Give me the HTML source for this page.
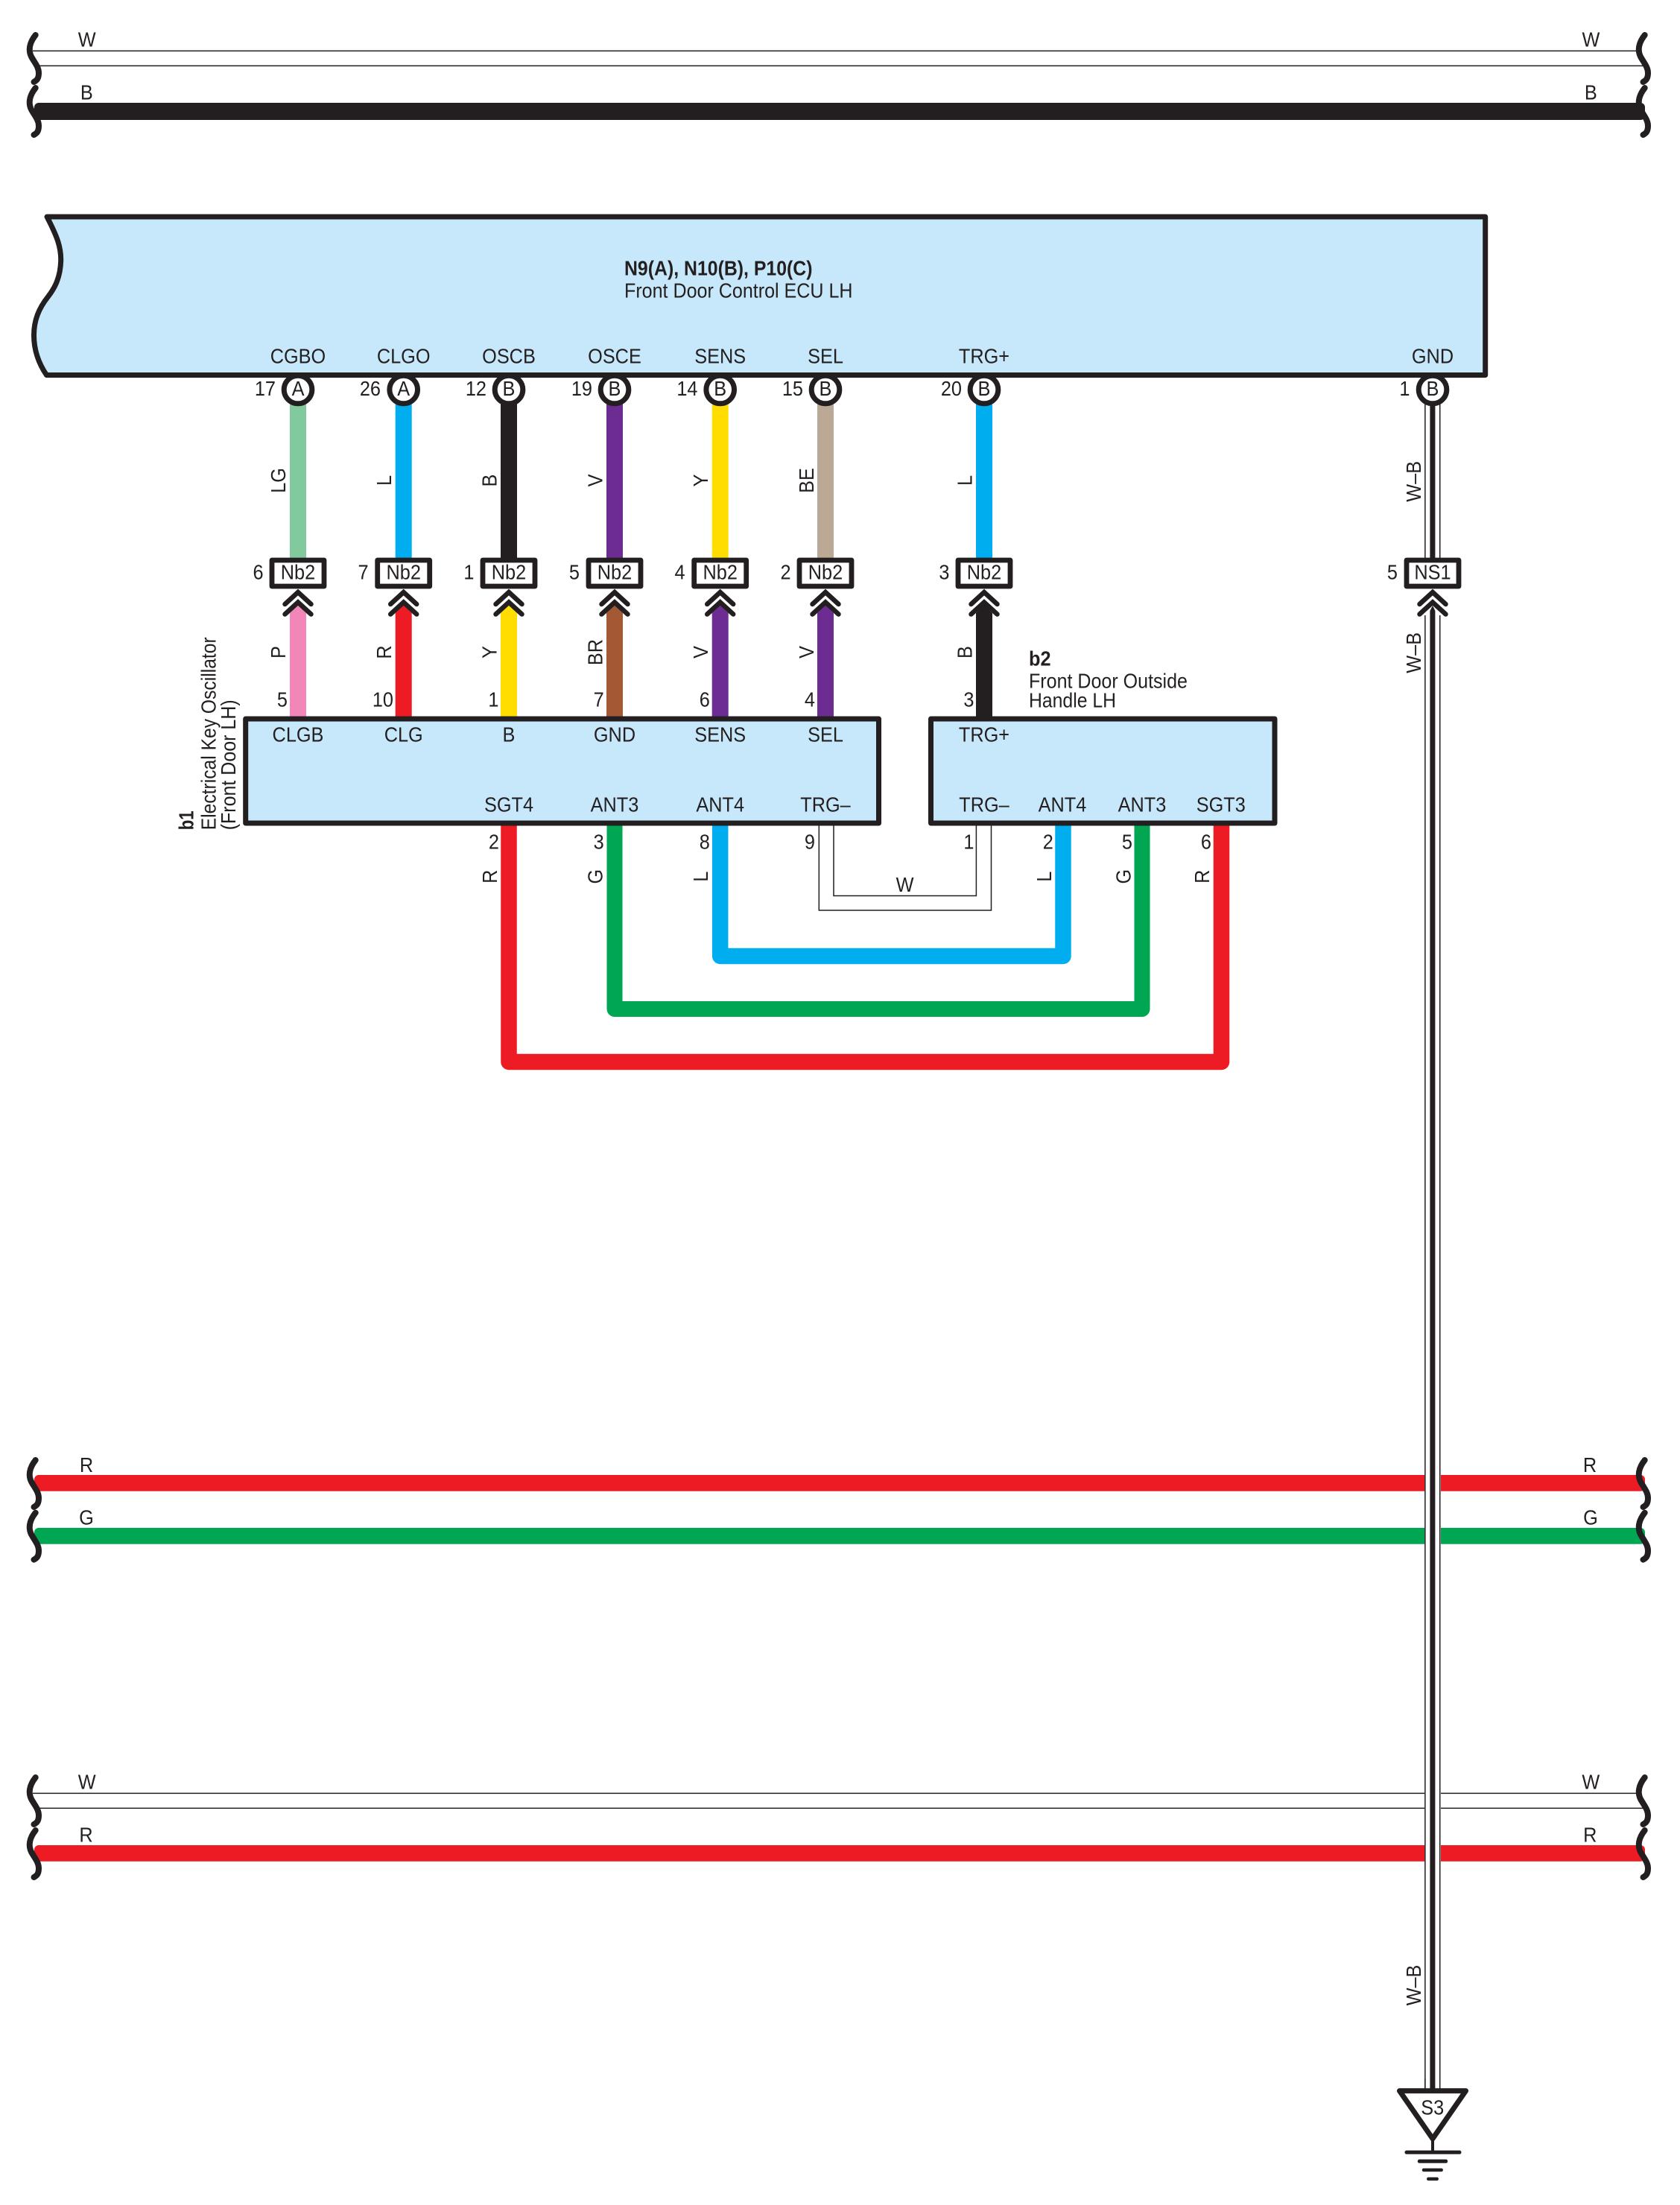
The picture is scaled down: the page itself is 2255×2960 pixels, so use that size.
<!DOCTYPE html>
<html>
<head>
<meta charset="utf-8">
<style>
html,body{margin:0;padding:0;background:#fff}
svg{display:block}
text{font-family:"Liberation Sans",sans-serif;font-size:27.5px;fill:#231F20;text-anchor:middle;transform-box:fill-box;transform:scaleX(.92);transform-origin:center}
text.s{text-anchor:start;transform-origin:left center}
text.e{text-anchor:end;transform-origin:right center}
text.n{text-anchor:start;transform:none}
text.b{font-weight:bold}
</style>
</head>
<body>
<svg xmlns="http://www.w3.org/2000/svg" width="2255" height="2960" viewBox="0 0 2255 2960">
<defs>
<path id="q" d="M47.7,47 C39,58 38,68 42,76 C47,85 52,90 52,98 C52,106 49,108 45.5,110" fill="none" stroke="#231F20" stroke-width="8" stroke-linecap="round"/>
<path id="a" d="M-11,963 V823 L0,812 L11,823 V963 Z"/>
<g id="ch" fill="none" stroke="#231F20" stroke-width="6.5" stroke-linecap="round" stroke-linejoin="miter">
<path d="M-17.5,811 L0,795 L17.5,811"/>
<path d="M-17.5,824.5 L0,808.5 L17.5,824.5"/>
</g>
<rect id="bx" x="-35" y="752" width="70" height="35" fill="#fff" stroke="#231F20" stroke-width="6.8" stroke-linejoin="round"/>
<circle id="c" cx="0" cy="523" r="18.8" fill="#fff" stroke="#231F20" stroke-width="7"/>
</defs>

<!-- top bus -->
<rect x="44" y="67.6" width="2156" height="1.5" fill="#231F20"/>
<rect x="53" y="87.6" width="2157" height="1.5" fill="#231F20"/>
<rect x="46" y="138" width="2162" height="23" rx="6" fill="#231F20"/>
<use href="#q"/><use href="#q" x="2160"/>
<use href="#q" y="71"/><use href="#q" x="2160" y="71"/>
<text x="116.7" y="62.7">W</text><text x="2135.5" y="62.7">W</text>
<text x="116.3" y="133.7">B</text><text x="2135.3" y="133.7">B</text>

<!-- R/G bus -->
<rect x="46" y="1980" width="2162" height="21.7" rx="6" fill="#ED1C24"/>
<rect x="46" y="2051" width="2162" height="21.7" rx="6" fill="#00A651"/>
<use href="#q" y="1913"/><use href="#q" x="2160" y="1913"/>
<use href="#q" y="1983.7"/><use href="#q" x="2160" y="1983.7"/>
<text x="116" y="1976">R</text><text x="2134" y="1976">R</text>
<text x="116" y="2046.7">G</text><text x="2135" y="2046.7">G</text>

<!-- W/R bus -->
<rect x="44" y="2406.6" width="2156" height="1.5" fill="#231F20"/>
<rect x="53" y="2426.6" width="2157" height="1.5" fill="#231F20"/>
<rect x="46" y="2477" width="2162" height="21.7" rx="6" fill="#ED1C24"/>
<use href="#q" y="2339"/><use href="#q" x="2160" y="2339"/>
<use href="#q" y="2410"/><use href="#q" x="2160" y="2410"/>
<text x="116.7" y="2401.7">W</text><text x="2135.3" y="2401.7">W</text>
<text x="115.5" y="2472.7">R</text><text x="2134.3" y="2472.7">R</text>

<!-- gap of vertical wire -->
<rect x="1912" y="1900" width="22" height="700" fill="#fff"/>

<!-- upper wires -->
<rect x="389" y="540" width="22" height="210" fill="#82C99D"/>
<rect x="530.7" y="540" width="22" height="210" fill="#00AEEF"/>
<rect x="672" y="540" width="22" height="210" fill="#231F20"/>
<rect x="814" y="540" width="22" height="210" fill="#6C2C91"/>
<rect x="955.7" y="540" width="22" height="210" fill="#FFDD00"/>
<rect x="1097" y="540" width="22" height="210" fill="#BBA995"/>
<rect x="1310" y="540" width="22" height="210" fill="#00AEEF"/>
<rect x="1912.1" y="540" width="1.5" height="212" fill="#231F20"/>
<rect x="1932" y="540" width="1.5" height="212" fill="#231F20"/>
<rect x="1919.4" y="540" width="7" height="212" fill="#231F20"/>

<!-- lower (middle) wires -->
<use href="#a" x="400" fill="#F286B8"/>
<use href="#a" x="541.7" fill="#ED1C24"/>
<use href="#a" x="683" fill="#FFDD00"/>
<use href="#a" x="825" fill="#A25934"/>
<use href="#a" x="966.7" fill="#6C2C91"/>
<use href="#a" x="1108" fill="#6C2C91"/>
<use href="#a" x="1321" fill="#231F20"/>

<!-- chevrons -->
<use href="#ch" x="400"/><use href="#ch" x="541.7"/><use href="#ch" x="683"/><use href="#ch" x="825"/>
<use href="#ch" x="966.7"/><use href="#ch" x="1108"/><use href="#ch" x="1321"/><use href="#ch" x="1923"/>

<!-- vertical W-B wire -->
<rect x="1912.1" y="826" width="1.5" height="1980" fill="#231F20"/>
<rect x="1932" y="826" width="1.5" height="1980" fill="#231F20"/>
<path d="M1919.4,2806 V820 L1923,813 L1926.4,820 V2806 Z" fill="#231F20"/>

<!-- connector boxes -->
<use href="#bx" x="400"/><use href="#bx" x="541.7"/><use href="#bx" x="683"/><use href="#bx" x="825"/>
<use href="#bx" x="966.7"/><use href="#bx" x="1108"/><use href="#bx" x="1321"/><use href="#bx" x="1923"/>
<text x="400" y="777.5">Nb2</text><text x="541.7" y="777.5">Nb2</text><text x="683" y="777.5">Nb2</text><text x="825" y="777.5">Nb2</text>
<text x="966.7" y="777.5">Nb2</text><text x="1108" y="777.5">Nb2</text><text x="1321" y="777.5">Nb2</text><text x="1923" y="777.5">NS1</text>
<text class="e" x="353.6" y="777.5">6</text><text class="e" x="494.6" y="777.5">7</text><text class="e" x="636.5" y="777.5">1</text><text class="e" x="778" y="777.5">5</text>
<text class="e" x="919.6" y="777.5">4</text><text class="e" x="1061.6" y="777.5">2</text><text class="e" x="1274.5" y="777.5">3</text><text class="e" x="1876" y="777.5">5</text>

<!-- circles -->
<use href="#c" x="400"/><use href="#c" x="541.7"/><use href="#c" x="683"/><use href="#c" x="825"/>
<use href="#c" x="966.7"/><use href="#c" x="1108"/><use href="#c" x="1321"/><use href="#c" x="1923"/>
<text x="400" y="531">A</text><text x="541.7" y="531">A</text><text x="683" y="531">B</text><text x="825" y="531">B</text>
<text x="966.7" y="531">B</text><text x="1108" y="531">B</text><text x="1321" y="531">B</text><text x="1923" y="531">B</text>
<text class="e" x="370" y="531">17</text><text class="e" x="511" y="531">26</text><text class="e" x="653" y="531">12</text><text class="e" x="795" y="531">19</text>
<text class="e" x="936.5" y="531">14</text><text class="e" x="1078" y="531">15</text><text class="e" x="1291" y="531">20</text><text class="e" x="1892.5" y="531">1</text>

<!-- ECU -->
<path d="M63,291 C77,318 82,332 81.7,350 C81,372 74,386 64.7,398 C52,414 45.5,430 45.5,450 C45.5,470 52,488 62.5,503.5 H1993.7 V291 Z" fill="#C7E8FA" stroke="#231F20" stroke-width="7" stroke-linejoin="round"/>
<text class="n b" x="838" y="369.3" textLength="252.5" lengthAdjust="spacingAndGlyphs">N9(A), N10(B), P10(C)</text>
<text class="n" x="838" y="399.3" textLength="306.5" lengthAdjust="spacingAndGlyphs">Front Door Control ECU LH</text>
<text x="400" y="487.7">CGBO</text><text x="541.7" y="487.7">CLGO</text><text x="683" y="487.7">OSCB</text><text x="825" y="487.7">OSCE</text>
<text x="966.7" y="487.7">SENS</text><text x="1108" y="487.7">SEL</text><text x="1321" y="487.7">TRG+</text><text x="1923" y="487.7">GND</text>

<!-- upper wire labels -->
<g transform="translate(383,645) rotate(-90)"><text>LG</text></g>
<g transform="translate(525.2,645) rotate(-90)"><text>L</text></g>
<g transform="translate(666.5,645) rotate(-90)"><text>B</text></g>
<g transform="translate(808.5,645) rotate(-90)"><text>V</text></g>
<g transform="translate(950,645) rotate(-90)"><text>Y</text></g>
<g transform="translate(1092,645) rotate(-90)"><text>BE</text></g>
<g transform="translate(1304.5,645) rotate(-90)"><text>L</text></g>
<g transform="translate(1907,646.3) rotate(-90)"><text>W–B</text></g>
<g transform="translate(1907,876.3) rotate(-90)"><text>W–B</text></g>
<g transform="translate(1907,2665) rotate(-90)"><text>W–B</text></g>

<!-- middle wire labels -->
<g transform="translate(383,875.5) rotate(-90)"><text>P</text></g>
<g transform="translate(525.2,875.5) rotate(-90)"><text>R</text></g>
<g transform="translate(666.5,875.5) rotate(-90)"><text>Y</text></g>
<g transform="translate(808.5,875.5) rotate(-90)"><text>BR</text></g>
<g transform="translate(950.2,875.5) rotate(-90)"><text>V</text></g>
<g transform="translate(1092,875.5) rotate(-90)"><text>V</text></g>
<g transform="translate(1304.5,875.5) rotate(-90)"><text>B</text></g>

<!-- TRG- double wire -->
<path d="M1099.3,1105 V1222 H1330.5 V1105" fill="none" stroke="#231F20" stroke-width="1.5"/>
<path d="M1119,1105 V1202.5 H1310.4 V1105" fill="none" stroke="#231F20" stroke-width="1.5"/>

<!-- loop wires -->
<path d="M683,1105 V1425.5 H1639.5 V1105" fill="none" stroke="#ED1C24" stroke-width="21.5" stroke-linejoin="round"/>
<path d="M825,1105 V1354.5 H1533 V1105" fill="none" stroke="#00A651" stroke-width="21" stroke-linejoin="round"/>
<path d="M966.7,1105 V1283.5 H1427 V1105" fill="none" stroke="#00AEEF" stroke-width="21.5" stroke-linejoin="round"/>

<!-- b1 / b2 -->
<rect x="329.7" y="965" width="849.8" height="140" fill="#C7E8FA" stroke="#231F20" stroke-width="7" stroke-linejoin="round"/>
<rect x="1249.5" y="965" width="461.5" height="140" fill="#C7E8FA" stroke="#231F20" stroke-width="7" stroke-linejoin="round"/>
<text x="400" y="995.5">CLGB</text><text x="541.7" y="995.5">CLG</text><text x="683" y="995.5">B</text><text x="825" y="995.5">GND</text>
<text x="966.7" y="995.5">SENS</text><text x="1108" y="995.5">SEL</text><text x="1321" y="995.5">TRG+</text>
<text x="683" y="1089.7">SGT4</text><text x="825" y="1089.7">ANT3</text><text x="966.7" y="1089.7">ANT4</text><text x="1108" y="1089.7">TRG–</text>
<text x="1321" y="1089.7">TRG–</text><text x="1426" y="1089.7">ANT4</text><text x="1533" y="1089.7">ANT3</text><text x="1638.8" y="1089.7">SGT3</text>

<text class="e" x="386" y="948.5">5</text><text class="e" x="528" y="948.5">10</text><text class="e" x="669.5" y="948.5">1</text><text class="e" x="810.7" y="948.5">7</text>
<text class="e" x="952.8" y="948.5">6</text><text class="e" x="1094" y="948.5">4</text><text class="e" x="1307.5" y="948.5">3</text>
<text class="e" x="670" y="1139.5">2</text><text class="e" x="810.7" y="1139.5">3</text><text class="e" x="952.8" y="1139.5">8</text><text class="e" x="1094" y="1139.5">9</text>
<text class="e" x="1307.5" y="1139.5">1</text><text class="e" x="1413.8" y="1139.5">2</text><text class="e" x="1520" y="1139.5">5</text><text class="e" x="1626" y="1139.5">6</text>

<g transform="translate(667.2,1176.7) rotate(-90)"><text>R</text></g>
<g transform="translate(808.5,1176.7) rotate(-90)"><text>G</text></g>
<g transform="translate(950.2,1176.7) rotate(-90)"><text>L</text></g>
<g transform="translate(1411.1,1176.7) rotate(-90)"><text>L</text></g>
<g transform="translate(1517.3,1176.7) rotate(-90)"><text>G</text></g>
<g transform="translate(1622.8,1176.7) rotate(-90)"><text>R</text></g>
<text x="1214.6" y="1197">W</text>

<text class="s b" x="1381" y="893.5">b2</text>
<text class="n" x="1381" y="923.7" textLength="213" lengthAdjust="spacingAndGlyphs">Front Door Outside</text>
<text class="n" x="1381" y="949.5" textLength="117" lengthAdjust="spacingAndGlyphs">Handle LH</text>

<g transform="translate(259.5,1114.3) rotate(-90)"><text class="n b" x="0" y="0" textLength="26" lengthAdjust="spacingAndGlyphs">b1</text></g>
<g transform="translate(289.3,1114.3) rotate(-90)"><text class="n" x="0" y="0" textLength="259" lengthAdjust="spacingAndGlyphs">Electrical Key Oscillator</text></g>
<g transform="translate(316,1114.3) rotate(-90)"><text class="n" x="0" y="0" textLength="175" lengthAdjust="spacingAndGlyphs">(Front Door LH)</text></g>

<!-- ground -->
<path d="M1878.5,2806.7 H1967.5 L1923,2871 Z" fill="#fff" stroke="#231F20" stroke-width="7" stroke-linejoin="round"/>
<rect x="1912.1" y="2790" width="1.5" height="14" fill="#231F20"/>
<rect x="1932" y="2790" width="1.5" height="14" fill="#231F20"/>
<rect x="1921" y="2870" width="4" height="20" fill="#231F20"/>
<text x="1922.7" y="2838.3">S3</text>
<path d="M1888,2889.3 H1959" stroke="#231F20" stroke-width="5" stroke-linecap="round"/>
<path d="M1905.3,2901.3 H1940.7" stroke="#231F20" stroke-width="5" stroke-linecap="round"/>
<path d="M1911,2913 H1934.7" stroke="#231F20" stroke-width="4.5" stroke-linecap="round"/>
<path d="M1917.3,2925 H1928.7" stroke="#231F20" stroke-width="4.5" stroke-linecap="round"/>
</svg>
</body>
</html>
